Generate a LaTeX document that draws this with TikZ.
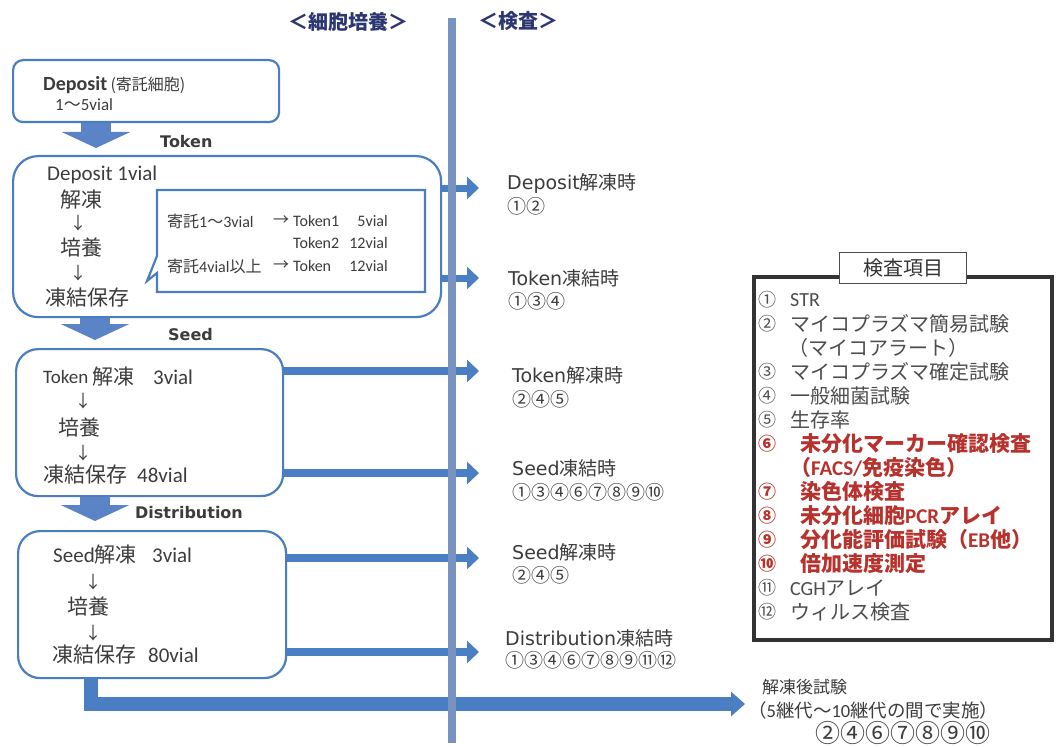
\documentclass[tikz,border=0pt]{standalone}
\usepackage{fontspec}
\setmainfont{Noto Sans CJK JP}
\newfontfamily\fCa{Carlito}
\newfontfamily\fDv{DejaVu Sans}
\usetikzlibrary{arrows.meta}
\newcommand\fsz[1]{\fontsize{#1}{#1}\selectfont}
\definecolor{txt}{HTML}{3C3C3C}
\definecolor{navy}{HTML}{2C3670}
\definecolor{boxblue}{HTML}{4A7EC0}
\definecolor{arrblue}{HTML}{4A7FC4}
\definecolor{blkblue}{HTML}{5B84C6}
\definecolor{vblue}{HTML}{7893C0}
\definecolor{lred}{HTML}{B8322D}
\definecolor{lgray}{HTML}{4D4D4D}
\definecolor{lborder}{HTML}{333333}
\begin{document}
\begin{tikzpicture}[x=1pt,y=-1pt,
  box/.style={draw=boxblue, line width=2.2pt, fill=white, anchor=north west, inner sep=0},
  t/.style={inner sep=0, anchor=west, text=txt},
  lb/.style={inner sep=0, anchor=west, text=txt, font=\fsz{16}\fDv\bfseries},
  rl/.style={inner sep=0, anchor=west, text=txt},
  harrow/.style={draw=arrblue, line width=7pt, -{Triangle[width=22pt,length=12pt]}},
  harrowb/.style={draw=arrblue, line width=8.5pt, -{Triangle[width=22pt,length=12pt]}},
  downarrow/.style={draw=blkblue, line width=30pt, -{Triangle[width=68pt,length=16pt]}},
  bigarrow/.style={draw=arrblue, line width=14pt, -{Triangle[width=24pt,length=14pt]}},
  vline/.style={draw=vblue, line width=7.5pt},
  gi/.style={inner sep=0, anchor=west, text=lgray, font=\fsz{20}},
  ri/.style={inner sep=0, anchor=west, text=lred, font=\fsz{21}\bfseries},
  gn/.style={inner sep=0, anchor=west, text=lgray, font=\fsz{18}},
  rn/.style={inner sep=0, anchor=west, text=lred, font=\fsz{18}\bfseries}
]
\useasboundingbox (0,0) rectangle (1056,746);
\fill[white] (0,0) rectangle (1056,746);

% headers
\node[inner sep=0, text=navy, font=\fsz{20}\bfseries] (h1) at (348,22) {＜細胞培養＞};
\node[inner sep=0, text=navy, font=\fsz{20}\bfseries] (h2) at (518,21) {＜検査＞};

% boxes
\node[box, rounded corners=10pt, minimum width=266, minimum height=62] (b1) at (12,59) {};
\node[box, rounded corners=25pt, minimum width=428, minimum height=161] (b2) at (12,155) {};
\node[box, rounded corners=22pt, minimum width=267, minimum height=147] (b3) at (15,348) {};
\node[box, rounded corners=22pt, minimum width=268, minimum height=147] (b4) at (17,530) {};

% down block arrows
\coordinate (d1) at (96,148);
\coordinate (d2) at (95,340);
\coordinate (d3) at (95,521);
\draw[downarrow] (d1 |- b1.south) -- (d1);
\draw[downarrow] (d2 |- b2.south) -- (d2);
\draw[downarrow] (d3 |- b3.south) -- (d3);
\node[lb] (lt1) at (160,142) {Token};
\node[lb] (lt2) at (168,335) {Seed};
\node[lb] (lt3) at (135,513) {Distribution};

% callout
\draw[draw=boxblue, line width=2.2pt, fill=white] (157,190) -- (425,190) -- (425,292) -- (157,292) -- (157,273) -- (147,281) -- (157,256) -- cycle;
\node[t] (c1) at (167,221) {\fsz{16}寄託{\fCa 1}～{\fCa 3vial}};
\node[t] (c2) at (273,221) {\fsz{16}→};
\node[t] (c3) at (293,221) {\fsz{16}\fCa Token1};
\node[t,anchor=east] (c4) at (388,221) {\fsz{16}\fCa 5vial};
\node[t] (c5) at (293,243) {\fsz{16}\fCa Token2};
\node[t,anchor=east] (c6) at (388,243) {\fsz{16}\fCa 12vial};
\node[t] (c7) at (167,266) {\fsz{16}寄託{\fCa 4vial}以上};
\node[t] (c8) at (273,266) {\fsz{16}→};
\node[t] (c9) at (293,266) {\fsz{16}\fCa Token};
\node[t,anchor=east] (c10) at (388,266) {\fsz{16}\fCa 12vial};

% box texts
\node[t] (a1) at (43,85) {\fsz{20}{\fCa\bfseries Deposit}\,\fsz{16}(寄託細胞)};
\node[t] (a2) at (55,105) {\fsz{17}{\fCa 1}～{\fCa 5vial}};

\node[t] (a3) at (47,175) {\fsz{21}\fCa Deposit 1vial};
\node[t] (a4) at (60,200) {\fsz{21}解凍};
\node[t,anchor=center] (a5) at (78,223) {\fsz{17}↓};
\node[t] (a6) at (60,248) {\fsz{21}培養};
\node[t,anchor=center] (a7) at (78,273) {\fsz{17}↓};
\node[t] (a8) at (45,298) {\fsz{21}凍結保存};

\node[t] (s1) at (43,377) {\fsz{19}\fCa Token};
\node[t] (s2) at (92,377) {\fsz{21}解凍};
\node[t] (s3) at (153,377) {\fsz{21}\fCa 3vial};
\node[t,anchor=center] (s4) at (83,401) {\fsz{17}↓};
\node[t] (s5) at (58,428) {\fsz{21}培養};
\node[t,anchor=center] (s6) at (83,453) {\fsz{17}↓};
\node[t] (s7) at (43,475) {\fsz{21}凍結保存};
\node[t] (s8) at (137,475) {\fsz{21}\fCa 48vial};

\node[t] (e1) at (53,555) {\fsz{21}{\fCa Seed}解凍};
\node[t] (e2) at (152,555) {\fsz{21}\fCa 3vial};
\node[t,anchor=center] (e3) at (93,582) {\fsz{17}↓};
\node[t] (e4) at (67,607) {\fsz{21}培養};
\node[t,anchor=center] (e5) at (93,633) {\fsz{17}↓};
\node[t] (e6) at (52,655) {\fsz{21}凍結保存};
\node[t] (e7) at (148,655) {\fsz{21}\fCa 80vial};

% horizontal arrows
\coordinate (p1) at (479,188);
\coordinate (p2) at (479,278);
\coordinate (p3) at (479,371);
\coordinate (p4) at (479,473);
\coordinate (p5) at (479,558);
\coordinate (p6) at (479,652);
\draw[harrow] (p1 -| b2.east) -- (p1);
\draw[harrow] (p2 -| b2.east) -- (p2);
\draw[harrowb] (p3 -| b3.east) -- (p3);
\draw[harrowb] (p4 -| b3.east) -- (p4);
\draw[harrowb] (p5 -| b4.east) -- (p5);
\draw[harrowb] (p6 -| b4.east) -- (p6);
\coordinate (bend) at (745,704);
\draw[bigarrow] ([xshift=-61pt]b4.south) |- (bend);

% vertical line
\coordinate (vtop) at (452,18);
\coordinate (vbot) at (452,743);
\draw[vline] (vtop) -- (vbot);

% right labels
\node[rl] (r1) at (507,183) {\fsz{19}{\fDv Deposit}解凍時};
\node[rl] (r1n) at (507,206) {\fsz{19}①②};
\node[rl] (r2) at (508,278) {\fsz{19}{\fDv Token}凍結時};
\node[rl] (r2n) at (508,301) {\fsz{19}①③④};
\node[rl] (r3) at (512,375) {\fsz{19}{\fDv Token}解凍時};
\node[rl] (r3n) at (512,399) {\fsz{19}②④⑤};
\node[rl] (r4) at (512,468) {\fsz{19}{\fDv Seed}凍結時};
\node[rl] (r4n) at (512,492) {\fsz{19}①③④⑥⑦⑧⑨⑩};
\node[rl] (r5) at (512,552) {\fsz{19}{\fDv Seed}解凍時};
\node[rl] (r5n) at (512,575) {\fsz{19}②④⑤};
\node[rl] (r6) at (505,638) {\fsz{19}{\fDv Distribution}凍結時};
\node[rl] (r6n) at (505,660) {\fsz{19}①③④⑥⑦⑧⑨⑪⑫};

% bottom text
\node[rl] (bt1) at (762,687) {\fsz{17}解凍後試験};
\node[rl] (bt2) at (748,710) {\fsz{18.5}（{\fCa 5}継代～{\fCa 10}継代の間で実施）};
\node[rl,anchor=center] (bt3) at (903,733) {\fsz{25}②④⑥⑦⑧⑨⑩};

% legend
\node[draw=lborder, line width=4pt, minimum width=298, minimum height=363, anchor=north west, inner sep=0] (leg) at (752,275) {};
\node[draw=lgray, line width=1.2pt, fill=white, minimum width=127, minimum height=31, inner sep=0, text=lborder, font=\fsz{20}] (ltit) at (903,268) {検査項目};

\node[gn] at (758,300) {①}; \node[gi] at (790,300) {\fCa STR};
\node[gn] at (758,324) {②}; \node[gi] at (790,324) {マイコプラズマ簡易試験};
\node[gi] at (788,348) {（マイコアラート）};
\node[gn] at (758,372) {③}; \node[gi] at (790,372) {マイコプラズマ確定試験};
\node[gn] at (758,396) {④}; \node[gi] at (790,396) {一般細菌試験};
\node[gn] at (758,420) {⑤}; \node[gi] at (790,420) {生存率};
\node[rn] at (758,444) {⑥}; \node[ri] at (800,444) {未分化マーカー確認検査};
\node[ri] at (790,468) {（{\fCa FACS/}免疫染色）};
\node[rn] at (758,492) {⑦}; \node[ri] at (800,492) {染色体検査};
\node[rn] at (758,516) {⑧}; \node[ri] at (800,516) {未分化細胞{\fCa PCR}アレイ};
\node[rn] at (758,540) {⑨}; \node[ri] at (800,540) {分化能評価試験（{\fCa EB}他）};
\node[rn] at (758,564) {⑩}; \node[ri] at (800,564) {倍加速度測定};
\node[gn] at (758,588) {⑪}; \node[gi] at (790,588) {{\fCa CGH}アレイ};
\node[gn] at (758,612) {⑫}; \node[gi] at (790,612) {ウィルス検査};
\end{tikzpicture}
\end{document}
